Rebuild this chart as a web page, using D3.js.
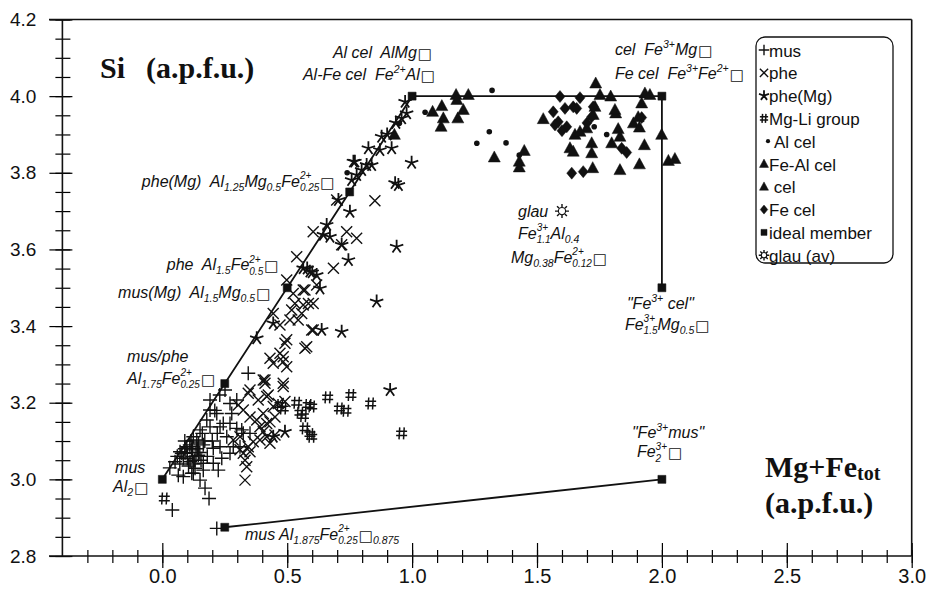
<!DOCTYPE html>
<html>
<head>
<meta charset="utf-8">
<script src="https://cdn.jsdelivr.net/npm/d3@7"></script>
<style>
body { margin: 0; background: #fff; }
text { font-family: "Liberation Sans", Arial, sans-serif; }
</style>
</head>
<body>
<div id="chart"></div>
<script>
var width = 927, height = 595;

// tick values
var xMajor = [0.0, 0.5, 1.0, 1.5, 2.0, 2.5, 3.0];
var yMajor = [2.8, 3.0, 3.2, 3.4, 3.6, 3.8, 4.0, 4.2];

// series, [Mg+Fe_tot, Si] in a.p.f.u.
var musPts = [[0.04,2.92],[0.187,2.95],[0.171,2.977],[0.151,2.998],[0.118,3.016],[0.084,3.007],[0.224,3.024],
  [0.344,3.277],[0.078,3.068],[0.218,2.872],[0.284,3.085],[0.271,3.146],[0.231,3.137],[0.191,3.207],[0.298,3.207],
  [0.251,3.233],[0.271,3.198],[0.278,3.172],[0.218,3.172],[0.191,3.137],[0.244,3.146],[0.258,3.111],[0.298,3.133],
  [0.324,3.12],[0.311,3.085],[0.231,3.085],[0.204,3.042],[0.164,3.042],[0.111,3.046],[0.084,3.055],[0.051,3.046],
  [0.144,3.063],[0.118,3.077],[0.138,3.103],[0.164,3.09],[0.124,3.111],[0.098,3.085],[0.091,3.068],[0.071,3.072],
  [0.151,3.129],[0.178,3.155],[0.191,3.181],[0.204,3.081],[0.271,3.068],[0.351,3.12],[0.318,3.129],[0.238,3.055],
  [0.164,3.024],[0.131,3.029],[0.064,3.011],[0.124,3.016],[0.1,3.07],[0.12,3.06],[0.14,3.08],[0.11,3.09],
  [0.13,3.05],[0.15,3.07],[0.09,3.1],[0.17,3.1],[0.16,3.12],[0.2,3.1],[0.22,3.12],[0.18,3.06],[0.105,3.035],
  [0.07,3.04],[0.03,3.03],[0.06,3.06],[0.23,3.22],[0.21,3.18],[0.12,3.085],[0.135,3.07],[0.145,3.095],
  [0.1,3.055],[0.115,3.1],[0.155,3.05],[0.09,3.08],[0.125,3.04]];

var phePts = [[0.331,2.998],[0.338,3.033],[0.311,3.077],[0.351,3.072],[0.344,3.225],[0.384,3.207],[0.411,3.251],
  [0.484,3.242],[0.424,3.22],[0.444,3.19],[0.404,3.172],[0.378,3.155],[0.391,3.137],[0.431,3.15],[0.451,3.163],
  [0.351,3.163],[0.324,3.181],[0.304,3.194],[0.491,3.203],[0.464,3.198],[0.418,3.111],[0.391,3.103],[0.364,3.098],
  [0.431,3.094],[0.451,3.116],[0.404,3.124],[0.311,3.111],[0.284,3.103],[0.344,3.085],[0.324,3.068],[0.331,3.05],
  [0.851,3.727],[0.738,3.646],[0.778,3.629],[0.604,3.646],[0.538,3.581],[0.685,3.551],[0.618,3.507],[0.571,3.494],
  [0.585,3.459],[0.531,3.459],[0.558,3.433],[0.518,3.442],[0.544,3.416],[0.471,3.403],[0.444,3.433],[0.604,3.39],
  [0.571,3.342],[0.498,3.364],[0.471,3.329],[0.431,3.316],[0.498,3.294],[0.411,3.259],[0.484,3.251],[0.698,3.729],
  [0.718,3.612],[0.498,3.52],[0.564,3.494],[0.604,3.459],[0.491,3.355],[0.484,3.307],[0.418,3.146],[0.418,3.216],
  [0.351,3.233],[0.578,3.346],[0.598,3.39],[0.511,3.416],[0.564,3.455],[0.524,3.485],[0.484,3.32],[0.444,3.303],
  [0.404,3.259]];

var pheMgPts = [[0.998,3.826],[0.945,3.768],[0.938,3.607],[0.858,3.464],[0.638,3.39],[0.718,3.385],[0.912,3.233],
  [0.932,3.773],[0.765,3.829],[0.818,3.82],[0.758,3.781],[0.778,3.794],[0.751,3.698],[0.705,3.729],[0.658,3.664],
  [0.671,3.633],[0.645,3.638],[0.591,3.542],[0.618,3.533],[0.631,3.498],[0.564,3.551],[0.718,3.612],[0.745,3.572],
  [0.378,3.368],[0.444,3.407],[0.972,3.985],[0.978,3.955],[0.958,3.942],[0.878,3.894],[0.918,3.864],[0.871,3.859],
  [0.825,3.864],[0.771,3.829],[0.838,3.82],[0.798,3.807],[0.491,3.124],[0.444,3.111],[0.58,3.55],[0.6,3.54],
  [0.9,3.9],[0.935,3.93]];

var mgLiPts = [[0.008,2.95],[0.662,3.214],[0.755,3.22],[0.709,3.185],[0.735,3.179],[0.834,3.198],[0.958,3.12],
  [0.584,3.194],[0.598,3.19],[0.571,3.133],[0.598,3.111],[0.538,3.2],[0.551,3.174],[0.484,3.185],[0.471,3.194],
  [0.591,3.118],[0.565,3.165]];

var alCelPts = [[1.052,3.958],[1.32,4.015],[1.309,3.907],[1.259,3.877],[1.376,3.878],[1.429,3.846],[1.729,3.92],
  [1.779,3.90],[0.949,3.929],[0.74,3.80]];

var feAlCelPts = [[1.176,4.003],[1.179,3.99],[1.225,4.003],[1.119,3.974],[1.082,3.959],[1.125,3.942],[1.116,3.92],
  [1.205,3.964],[1.183,3.942],[1.329,3.84],[1.449,3.857],[1.429,3.829],[1.429,3.814],[0.929,3.899],[1.525,3.94]];

var celPts = [[1.735,4.033],[1.752,4.003],[1.795,3.999],[1.932,4.007],[1.952,4.003],[1.919,3.981],[1.815,3.955],
  [1.725,3.951],[1.699,3.916],[1.825,3.914],[1.832,3.894],[1.886,3.929],[1.91,3.918],[1.652,3.899],[1.672,3.907],
  [1.632,3.864],[1.645,3.855],[1.799,3.877],[1.719,3.877],[1.719,3.851],[1.93,3.872],[1.999,3.899],[2.026,3.831],
  [2.052,3.836],[1.91,3.822],[1.832,3.807],[1.723,3.812],[1.732,3.972],[1.812,3.964],[1.905,3.945]];

var feCelPts = [[1.592,3.999],[1.672,3.996],[1.565,3.959],[1.612,3.968],[1.645,3.972],[1.585,3.933],[1.619,3.92],
  [1.572,3.925],[1.725,3.972],[1.719,3.946],[1.919,3.944],[1.839,3.864],[1.859,3.853],[1.639,3.799],[1.685,3.803],
  [1.659,3.968],[1.6,3.91],[1.7,3.93]];

var idealPts = [[0,3],[0.25,3.25],[0.5,3.5],[0.75,3.75],[1,4],[2,4],[2,3.5],[0.25,2.875],[2,3]];
var glauPts = [[1.6,3.70]];

// ideal member joins
var idealLineA = [[0,3],[1,4],[2,4],[2,3.5]];
var idealLineB = [[0.25,2.875],[2,3]];

// end-member labels: anchor [x, y] and formula (^{} sup, _{} sub)
var labelPos = [[0.683,4.100],[0.563,4.042],[1.812,4.107],[1.812,4.045],[-0.082,3.763],[0.018,3.546],
  [-0.177,3.473],[-0.141,3.305],[-0.141,3.249],[-0.189,3.017],[-0.197,2.967],[0.331,2.842],
  [1.424,3.685],[1.424,3.628],[1.396,3.565],[1.86,3.445],[1.852,3.39],[1.88,3.108],[1.9,3.058]];
var labelText = ["Al cel  AlMg□", "Al-Fe cel  Fe^{2+}Al□", "cel  Fe^{3+}Mg□", "Fe cel  Fe^{3+}Fe^{2+}□",
  "phe(Mg)  Al_{1.25}Mg_{0.5}Fe^{2+}_{0.25}□", "phe  Al_{1.5}Fe^{2+}_{0.5}□", "mus(Mg)  Al_{1.5}Mg_{0.5}□",
  "mus/phe", "Al_{1.75}Fe^{2+}_{0.25}□", "mus", "Al_{2}□", "mus Al_{1.875}Fe^{2+}_{0.25}□_{0.875}",
  "glau", "Fe^{3+}_{1.1}Al_{0.4}", "Mg_{0.38}Fe^{2+}_{0.12}□", "\"Fe^{3+} cel\"", "Fe^{3+}_{1.5}Mg_{0.5}□",
  "\"Fe^{3+}mus\"", "Fe^{3+}_{2}□"];

var legendNames = ["mus", "phe", "phe(Mg)", "Mg-Li group", "Al cel", "Fe-Al cel", " cel", "Fe cel", "ideal member", "glau (av)"];
var legendShapes = ["plus", "cross", "star", "hash", "dot", "tri", "tri", "diamond", "square", "sun"];

var svg = d3.select("#chart").append("svg")
    .attr("width", width)
    .attr("height", height);

var x = d3.scaleLinear().domain([-0.4, 3.0]).range([62.4, 911.7]);
var y = d3.scaleLinear().domain([2.8, 4.2]).range([556, 19.5]);

// symbol paths
function symPath(type, s) {
    var d;
    if (type == "plus") d = "M-7,0H7M0,-7V7";
    else if (type == "cross") d = "M-5.5,-5.5L5.5,5.5M-5.5,5.5L5.5,-5.5";
    else if (type == "star") {
        d = "";
        for (var k = 0; k < 5; k++) {
            var a = -Math.PI / 2 + k * 2 * Math.PI / 5;
            d += "M0,0L" + (7 * Math.cos(a)).toFixed(2) + "," + (7 * Math.sin(a)).toFixed(2);
        }
    }
    else if (type == "hash") d = "M-1.9,-6L-2.6,6M2.6,-6L1.9,6M-5.5,-2.2H5.5M-5.5,2.2H5.5";
    else if (type == "tri") d = "M0,-6.5L6,4.5L-6,4.5Z";
    else if (type == "diamond") d = "M0,-6L5,0L0,6L-5,0Z";
    else if (type == "square") d = "M-4,-4H4V4H-4Z";
    else if (type == "sun") {
        d = "";
        for (var k = 0; k < 8; k++) {
            var a = k * Math.PI / 4;
            d += "M" + (4 * Math.cos(a)).toFixed(2) + "," + (4 * Math.sin(a)).toFixed(2) +
                 "L" + (7 * Math.cos(a)).toFixed(2) + "," + (7 * Math.sin(a)).toFixed(2);
        }
    }
    if (s != 1) {
        d = d.replace(/-?\d+(\.\d+)?/g, function(n) { return (+n * s).toFixed(2); });
    }
    return d;
}

function drawSymbol(g, type, px, py, s) {
    if (type == "dot") {
        g.append("circle").attr("cx", px).attr("cy", py).attr("r", 2.8 * s).attr("fill", "#111");
        return;
    }
    var filled = (type == "tri" || type == "diamond" || type == "square");
    var sw = 1.4;
    if (type == "star") sw = 1.8;
    if (type == "hash") sw = 1.5;
    if (filled) sw = 0.5;
    g.append("path")
        .attr("transform", "translate(" + px + "," + py + ")")
        .attr("d", symPath(type, s))
        .attr("fill", filled ? "#111" : "none")
        .attr("stroke", "#111")
        .attr("stroke-width", sw);
    if (type == "sun") {
        g.append("circle").attr("cx", px).attr("cy", py).attr("r", 3.6 * s)
            .attr("fill", "#fff").attr("stroke", "#111").attr("stroke-width", 1.1);
    }
}

// axes
var axisG = svg.append("g").attr("class", "axes");

var yMinorG = axisG.append("g").attr("transform", "translate(" + x(-0.4) + ",0)")
    .call(d3.axisLeft(y).tickValues(d3.range(0, 29).map(function(i) { return 2.8 + i * 0.05; }))
        .tickSize(7).tickFormat(""));
yMinorG.select(".domain").remove();
yMinorG.selectAll(".tick line").attr("x1", 8).attr("stroke-width", 1.2);

var yMajorG = axisG.append("g").attr("transform", "translate(" + x(-0.4) + ",0)")
    .call(d3.axisLeft(y).tickValues(yMajor).tickSize(13).tickPadding(13).tickFormat(d3.format(".1f")));
yMajorG.select(".domain").remove();
yMajorG.selectAll(".tick line").attr("x1", 10).attr("stroke-width", 1.2);
yMajorG.selectAll(".tick text").attr("font-size", 19).attr("font-family", "Liberation Sans, Arial, sans-serif").attr("fill", "#111");

var xMinorG = axisG.append("g").attr("transform", "translate(0," + y(2.8) + ")")
    .call(d3.axisBottom(x).tickValues(d3.range(-3, 31).map(function(i) { return i / 10; }))
        .tickSize(7).tickFormat(""));
xMinorG.select(".domain").remove();
xMinorG.selectAll(".tick line").attr("y1", -6).attr("stroke-width", 1.2);

var xMajorG = axisG.append("g").attr("transform", "translate(0," + y(2.8) + ")")
    .call(d3.axisBottom(x).tickValues(xMajor).tickSize(12).tickPadding(1).tickFormat(d3.format(".1f")));
xMajorG.select(".domain").remove();
xMajorG.selectAll(".tick line").attr("y1", -13).attr("stroke-width", 1.2);
xMajorG.selectAll(".tick text").attr("font-size", 20).attr("font-family", "Liberation Sans, Arial, sans-serif").attr("fill", "#111");

// frame
var frame = [
    [49, y(2.8), x(3.0), y(2.8)],
    [x(-0.4), y(2.8), x(-0.4), y(4.2)],
    [49, y(4.2), x(3.0), y(4.2)],
    [x(3.0), y(4.2), x(3.0), y(2.8)]
];
axisG.selectAll("line.frame").data(frame).enter().append("line")
    .attr("class", "frame")
    .attr("x1", function(d) { return d[0]; }).attr("y1", function(d) { return d[1]; })
    .attr("x2", function(d) { return d[2]; }).attr("y2", function(d) { return d[3]; })
    .attr("stroke", "#111").attr("stroke-width", 1.6);

// ideal member lines
var line = d3.line().x(function(d) { return x(d[0]); }).y(function(d) { return y(d[1]); });
svg.append("path").datum(idealLineA).attr("d", line).attr("fill", "none").attr("stroke", "#111").attr("stroke-width", 1.8);
svg.append("path").datum(idealLineB).attr("d", line).attr("fill", "none").attr("stroke", "#111").attr("stroke-width", 1.8);

// data
var series = [
    [musPts, "plus"], [phePts, "cross"], [mgLiPts, "hash"], [pheMgPts, "star"],
    [alCelPts, "dot"], [feAlCelPts, "tri"], [celPts, "tri"], [feCelPts, "diamond"],
    [idealPts, "square"], [glauPts, "sun"]
];
var pts = svg.append("g");
series.forEach(function(s) {
    s[0].forEach(function(p) { drawSymbol(pts, s[1], x(p[0]), y(p[1]), 1); });
});

// labels
var labG = svg.append("g").attr("font-style", "italic").attr("fill", "#111");

function putText(str, px, py, fs, fam, style) {
    var t = labG.append("text").attr("x", px).attr("y", py).attr("font-size", fs)
        .style("white-space", "pre").text(str);
    if (fam) t.style("font-family", fam).attr("font-style", style);
    return t.node().getComputedTextLength();
}

function drawLabel(str, px, py) {
    var cx = px;
    var re = /\^\{([^}]*)\}_\{([^}]*)\}|\^\{([^}]*)\}|_\{([^}]*)\}|(□)|([^\^_□]+)/g;
    var m;
    while ((m = re.exec(str)) !== null) {
        if (m[1] !== undefined) {
            var a = putText(m[1], cx, py - 7.5, 10);
            var b = putText(m[2], cx, py + 4.5, 10);
            cx += Math.max(a, b);
        } else if (m[3] !== undefined) {
            cx += putText(m[3], cx, py - 7, 10.5);
        } else if (m[4] !== undefined) {
            cx += putText(m[4], cx, py + 4, 10.5);
        } else if (m[5] !== undefined) {
            cx += 1 + putText("□", cx + 1, py + 1, 15, "DejaVu Sans", "normal");
        } else {
            cx += putText(m[6], cx, py, 16);
        }
    }
}
labelText.forEach(function(t, i) { drawLabel(t, x(labelPos[i][0]), y(labelPos[i][1])); });

// axis titles
var titleG = svg.append("g").attr("font-weight", "bold").attr("fill", "#111");
titleG.append("text").attr("x", 100).attr("y", 78).attr("font-size", 30).style("font-family", "Liberation Serif, serif").text("Si");
titleG.append("text").attr("x", 146).attr("y", 78).attr("font-size", 30).style("font-family", "Liberation Serif, serif").text("(a.p.f.u.)");
var xt = titleG.append("text").attr("x", 765).attr("y", 477).attr("font-size", 30).style("font-family", "Liberation Serif, serif");
xt.append("tspan").text("Mg+Fe");
xt.append("tspan").attr("font-size", 20).attr("dy", 3).text("tot");
titleG.append("text").attr("x", 765).attr("y", 513).attr("font-size", 30).style("font-family", "Liberation Serif, serif").text("(a.p.f.u.)");

// legend
var leg = svg.append("g");
leg.append("rect").attr("x", 756).attr("y", 37).attr("width", 137).attr("height", 226).attr("rx", 9)
    .attr("fill", "#fff").attr("stroke", "#111").attr("stroke-width", 1.3);
legendNames.forEach(function(n, i) {
    var cy = 50 + i * 22.8;
    var sx = legendShapes[i] == "dot" ? 768 : 764;
    drawSymbol(leg, legendShapes[i], sx, cy, 0.75);
    var tx = legendShapes[i] == "dot" ? 774 : 769;
    leg.append("text").attr("x", tx).attr("y", cy + 6.5).attr("font-size", 17).attr("fill", "#111")
        .style("white-space", "pre").text(n);
});
</script>
</body>
</html>
